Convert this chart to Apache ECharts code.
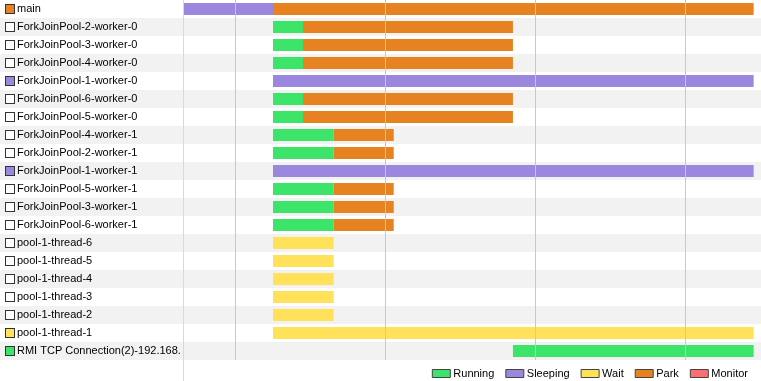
<!DOCTYPE html>
<html><head><meta charset="utf-8">
<script src="https://cdn.jsdelivr.net/npm/echarts@6/dist/echarts.min.js"></script>
<style>html,body{margin:0;padding:0;background:#fff}#c{width:761px;height:381px}</style>
</head><body><div id="c"></div>
<script>
// Thread names (rows, top to bottom)
const threads = ['main','ForkJoinPool-2-worker-0','ForkJoinPool-3-worker-0','ForkJoinPool-4-worker-0','ForkJoinPool-1-worker-0','ForkJoinPool-6-worker-0','ForkJoinPool-5-worker-0','ForkJoinPool-4-worker-1','ForkJoinPool-2-worker-1','ForkJoinPool-1-worker-1','ForkJoinPool-5-worker-1','ForkJoinPool-3-worker-1','ForkJoinPool-6-worker-1','pool-1-thread-6','pool-1-thread-5','pool-1-thread-4','pool-1-thread-3','pool-1-thread-2','pool-1-thread-1','RMI TCP Connection(2)-192.168.56.1'];
// Current state of each thread (square marker), '' = finished
const currentState = ['Park','','','','Sleeping','','','','','Sleeping','','','','','','','','','Wait','Running'];
// Time range (s) and grid marks
const timeMin = -3.47, timeMax = 35.07;
const timeMarks = [0, 10, 20, 30];
// Segments: [row, start, end]
const running = [[1,2.53,4.53],[2,2.53,4.53],[3,2.53,4.53],[5,2.53,4.53],[6,2.53,4.53],[7,2.53,6.58],[8,2.53,6.58],[10,2.53,6.58],[11,2.53,6.58],[12,2.53,6.58],[19,18.53,34.58]];
const sleeping = [[0,-3.47,2.53],[4,2.53,34.58],[9,2.53,34.58]];
const wait = [[13,2.53,6.58],[14,2.53,6.58],[15,2.53,6.58],[16,2.53,6.58],[17,2.53,6.58],[18,2.53,34.58]];
const park = [[0,2.53,34.58],[1,4.53,18.53],[2,4.53,18.53],[3,4.53,18.53],[5,4.53,18.53],[6,4.53,18.53],[7,6.58,10.58],[8,6.58,10.58],[10,6.58,10.58],[11,6.58,10.58],[12,6.58,10.58]];
const monitor = [];
const stateNames = ['Running','Sleeping','Wait','Park','Monitor'];
const stateColors = {Running:'#3ce46a',Sleeping:'#9b87de',Wait:'#ffe25a',Park:'#e6821f',Monitor:'#ff6e6e'};

function renderItem(params, api){
  const row = api.value(0);
  const s = api.coord([api.value(1), row]);
  const e = api.coord([api.value(2), row]);
  const h = api.size([0,1])[1];
  const bh = Math.round(h*12/18);
  const rect = echarts.graphic.clipRectByRect({x:s[0], y:Math.round(s[1]-bh/2), width:e[0]-s[0], height:bh},
    {x:params.coordSys.x, y:params.coordSys.y, width:params.coordSys.width, height:params.coordSys.height});
  return rect && {type:'rect', shape:rect, style:{fill:api.visual('color')}};
}

const rich = {t:{fontFamily:'Liberation Sans', fontSize:11, color:'#000', padding:[0,0,0,3]}};
rich.none = {width:8, height:8, borderColor:'#333', borderWidth:1, backgroundColor:'#fff'};
stateNames.forEach(n => { rich['s'+n] = {width:8, height:8, borderColor:'#333', borderWidth:1, backgroundColor:stateColors[n]}; });

const seriesData = {Running:running, Sleeping:sleeping, Wait:wait, Park:park, Monitor:monitor};
const series = stateNames.map(n => ({
  name:n, type:'custom', xAxisIndex:1, yAxisIndex:1, renderItem, z:3,
  itemStyle:{color:stateColors[n]},
  encode:{x:[1,2], y:0}, data:seriesData[n], silent:true
}));
series.push({
  name:'marks', type:'custom', xAxisIndex:1, yAxisIndex:1, z:1, data:[], renderItem:()=>null, silent:true,
  markLine:{silent:true, symbol:'none', label:{show:false}, lineStyle:{color:'#c8c8c8', type:'solid', width:1}, emphasis:{disabled:true},
    data: timeMarks.map(v => ({xAxis:v}))}
});

const chart = echarts.init(document.getElementById('c'), null, {renderer:'canvas'});
chart.setOption({
  animation:false,
  grid:[
    {left:0, right:0, top:0, height:360},
    {left:183, right:0, top:0, height:360}
  ],
  xAxis:[
    {gridIndex:0, type:'value', show:false, min:0, max:1},
    {gridIndex:1, type:'value', min:timeMin, max:timeMax, axisLine:{show:false}, axisTick:{show:false}, axisLabel:{show:false}, splitLine:{show:false}}
  ],
  yAxis:[
    {gridIndex:0, type:'category', data:threads, inverse:true, axisLine:{show:false}, axisTick:{show:false}, axisLabel:{show:false}, splitLine:{show:false},
     splitArea:{show:true, areaStyle:{color:['#ffffff','#f2f2f2']}}},
    {gridIndex:1, type:'category', data:threads, inverse:true, axisLine:{show:false}, axisTick:{show:false}, splitLine:{show:false},
     axisLabel:{margin:177, align:'left', width:181, overflow:'truncate', ellipsis:'',
       formatter:(v, i) => '{' + (currentState[i] ? 's'+currentState[i] : 'none') + '|}{t|' + v + '}', rich}}
  ],
  legend:{data:stateNames, right:8, top:363, icon:'rect', itemWidth:18, itemHeight:8, itemGap:11,
    itemStyle:{borderColor:'#444', borderWidth:1},
    textStyle:{fontFamily:'Liberation Sans', fontSize:11, color:'#000', padding:[0,0,0,-2]}, selectedMode:false},
  graphic:[{type:'line', shape:{x1:183.5, y1:0, x2:183.5, y2:381}, style:{stroke:'#d3d8ee', lineWidth:1}, z:10}],
  series
});
</script></body></html>
